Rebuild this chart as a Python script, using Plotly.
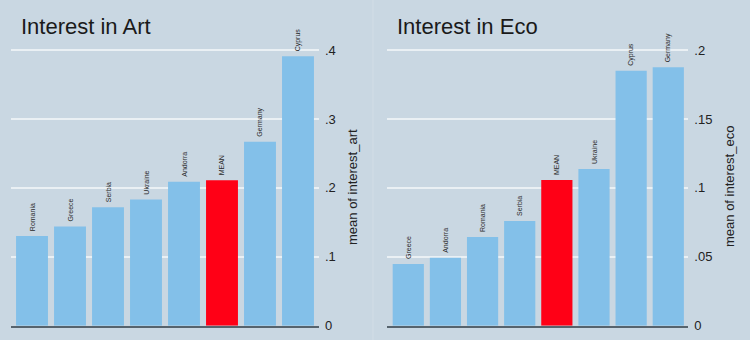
import plotly.graph_objects as go

# Mean interest in art, by country (sorted ascending, overall mean highlighted)
art_countries = ["Romania", "Greece", "Serbia", "Ukraine", "Andorra", "MEAN", "Germany", "Cyprus"]
art_values = [0.130, 0.144, 0.172, 0.183, 0.209, 0.211, 0.267, 0.391]

# Mean interest in eco, by country
eco_countries = ["Greece", "Andorra", "Romania", "Serbia", "MEAN", "Ukraine", "Cyprus", "Germany"]
eco_values = [0.0448, 0.0493, 0.0644, 0.0760, 0.1057, 0.1137, 0.1850, 0.1875]

art_ticks = [0, 0.1, 0.2, 0.3, 0.4]
art_ticktext = ["0", ".1", ".2", ".3", ".4"]
eco_ticks = [0, 0.05, 0.1, 0.15, 0.2]
eco_ticktext = ["0", ".05", ".1", ".15", ".2"]

BG = "#c9d7e2"
BAR = "#83c0e9"
MEAN_COLOR = "#ff0016"
W, H = 750, 340


def colors(cats):
    return [MEAN_COLOR if c == "MEAN" else BAR for c in cats]


label_font = dict(size=7, color="#2a2a2a", family="Liberation Sans, Arial")

fig = go.Figure()

fig.add_trace(go.Bar(
    x=art_countries, y=art_values, xaxis="x", yaxis="y",
    marker=dict(color=colors(art_countries), line=dict(width=0)),
    text=art_countries, texttemplate="\u00a0%{text}", textposition="outside", textangle=-90,
    textfont=label_font, cliponaxis=False, hoverinfo="x+y",
))
fig.add_trace(go.Bar(
    x=eco_countries, y=eco_values, xaxis="x2", yaxis="y2",
    marker=dict(color=colors(eco_countries), line=dict(width=0)),
    text=eco_countries, texttemplate="\u00a0%{text}", textposition="outside", textangle=-90,
    textfont=label_font, cliponaxis=False, hoverinfo="x+y",
))

y_bottom = 1 - 325.7 / H
y_top = 1 - 36.3 / H

common_x = dict(
    showticklabels=False, ticks="", showgrid=False, zeroline=False, automargin=False,
    showline=True, linecolor="#56636d", linewidth=1.5, fixedrange=True,
)
common_y = dict(
    side="right", showline=False, zeroline=False, ticks="", automargin=False,
    showgrid=True, gridcolor="#eaf0f4", gridwidth=1.5,
    tickfont=dict(size=13, color="#222222", family="Liberation Sans, Arial"),
    ticklabelstandoff=5,
)

fig.update_layout(
    width=W, height=H, autosize=False,
    margin=dict(l=0, r=0, t=0, b=0, pad=0, autoexpand=False),
    paper_bgcolor=BG, plot_bgcolor=BG,
    showlegend=False, bargap=0.16,
    font=dict(family="Liberation Sans, Arial"),
    xaxis=dict(domain=[11 / W, 319 / W], range=[-0.553, 7.553], anchor="y", **common_x),
    yaxis=dict(domain=[y_bottom, y_top], range=[0, 0.42], anchor="x",
               tickvals=art_ticks, ticktext=art_ticktext, **common_y),
    xaxis2=dict(domain=[387.3 / W, 688.3 / W], range=[-0.565, 7.539], anchor="y2", **common_x),
    yaxis2=dict(domain=[y_bottom, y_top], range=[0, 0.21], anchor="x2",
                tickvals=eco_ticks, ticktext=eco_ticktext, **common_y),
    annotations=[
        dict(text="Interest in Art", x=19 / W, y=1 - 27 / H, xref="paper", yref="paper",
             xanchor="left", yanchor="middle", showarrow=False,
             font=dict(size=22, color="#1a1a1a")),
        dict(text="Interest in Eco", x=395 / W, y=1 - 27 / H, xref="paper", yref="paper",
             xanchor="left", yanchor="middle", showarrow=False,
             font=dict(size=22, color="#1a1a1a")),
        dict(text="mean of interest_art", x=352 / W, y=1 - 187 / H, xref="paper", yref="paper",
             xanchor="center", yanchor="middle", showarrow=False, textangle=-90,
             font=dict(size=13, color="#222222")),
        dict(text="mean of interest_eco", x=729 / W, y=1 - 187 / H, xref="paper", yref="paper",
             xanchor="center", yanchor="middle", showarrow=False, textangle=-90,
             font=dict(size=13, color="#222222")),
    ],
    shapes=[
        dict(type="line", xref="paper", yref="paper", x0=373 / W, x1=373 / W, y0=0, y1=1,
             line=dict(color="#d2dde6", width=1)),
    ],
)

fig.write_html("out.html")
